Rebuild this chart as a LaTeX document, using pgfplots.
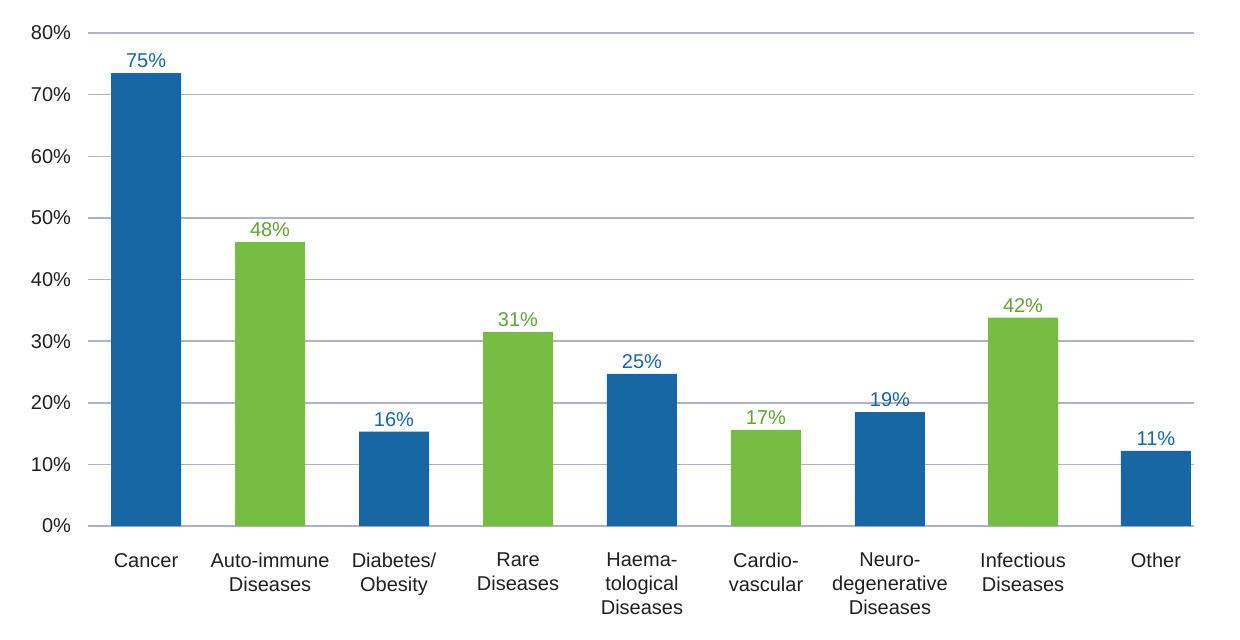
\documentclass[border=0pt]{standalone}
\usepackage{fontspec}
\setmainfont{Liberation Sans}
\usepackage{pgfplots}
\pgfplotsset{compat=1.18}
\usepackage{pgfplotstable}
\definecolor{barblue}{RGB}{22,103,164}
\definecolor{bargreen}{RGB}{118,190,67}
\definecolor{gridc}{RGB}{176,178,200}

% bar heights as drawn, labels as printed; x positions follow the source's uneven spacing
\pgfplotstableread{
x y lab
0 73.5 75
2 15.3 16
4 24.7 25
6 18.5 19
8.145 12.2 11
}\bluedata
\pgfplotstableread{
x y lab
1 46.1 48
3 31.5 31
5 15.6 17
7.073 33.8 42
}\greendata

\begin{document}
\begin{tikzpicture}
\useasboundingbox (-44pt,-56.5pt) rectangle (576pt,263pt);
\begin{axis}[
    width=553pt, height=246.5pt,
    scale only axis,
    at={(0,0)}, anchor=south west,
    ymin=0, ymax=80,
    xmin=-0.468, xmax=8.452,
    ytick={0,10,...,80},
    yticklabel={\pgfmathprintnumber{\tick}\%},
    /pgf/number format/assume math mode=true,
    axis line style={draw=none},
    major tick length=0pt,
    ymajorgrids,
    grid style={gridc, line width=0.75pt},
    xtick={0,1,2,3,4,5,6,7.073,8.145},
    xticklabels={Cancer, Auto-immune\\Diseases, Diabetes/\\Obesity, Rare\\Diseases,
        Haema-\\tological\\Diseases, Cardio-\\vascular, Neuro-\\degenerative\\Diseases,
        Infectious\\Diseases, Other},
    xticklabel style={align=center, font={\fontsize{10}{12}\selectfont}, text=black!88, yshift=-10pt},
    yticklabel style={font={\fontsize{10}{12}\selectfont}, text=black!88, xshift=-5pt},
    ybar, bar width=35pt, bar shift=0pt,
    point meta=explicit symbolic,
    nodes near coords={\pgfplotspointmeta\%},
    every node near coord/.append style={font={\fontsize{10}{12}\selectfont}, yshift=-1pt},
]
\addplot[fill=barblue, draw=none, every node near coord/.append style={text=barblue}]
    table[x=x, y=y, meta=lab] {\bluedata};
\addplot[fill=bargreen, draw=none, every node near coord/.append style={text=bargreen!85!black}]
    table[x=x, y=y, meta=lab] {\greendata};
\end{axis}
\end{tikzpicture}
\end{document}
